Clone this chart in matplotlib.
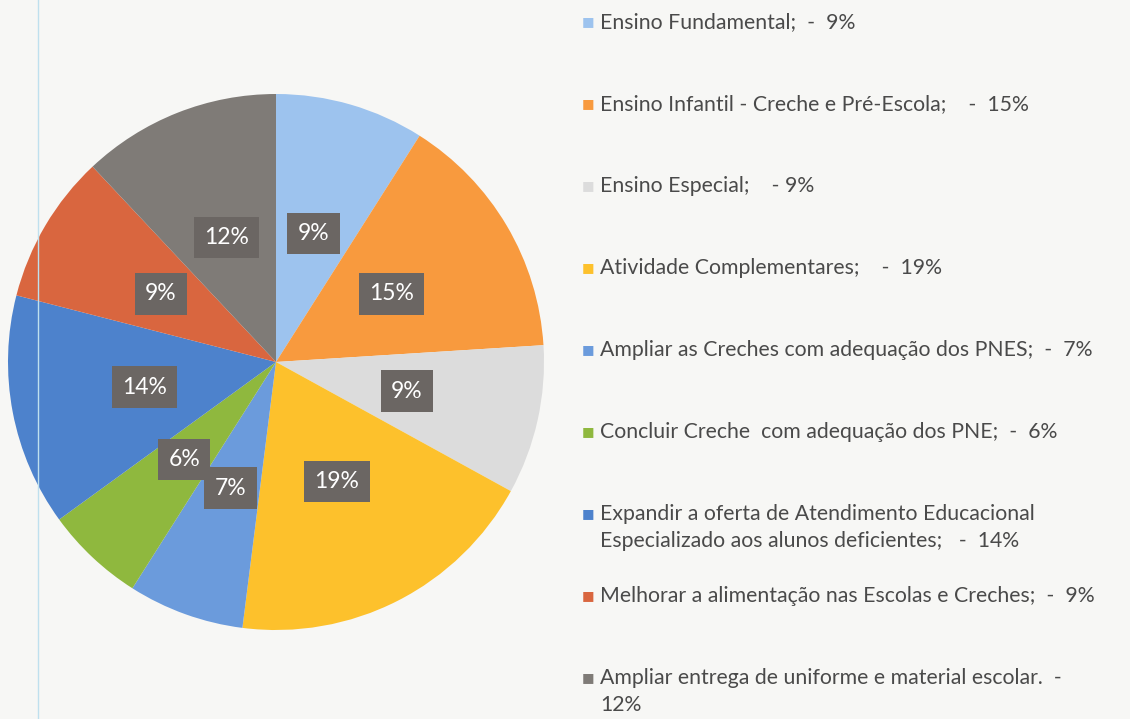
import matplotlib.pyplot as plt

# data
categories = [
    "Ensino Fundamental",
    "Ensino Infantil - Creche e Pré-Escola",
    "Ensino Especial",
    "Atividade Complementares",
    "Ampliar as Creches com adequação dos PNES",
    "Concluir Creche com adequação dos PNE",
    "Expandir a oferta de Atendimento Educacional Especializado aos alunos deficientes",
    "Melhorar a alimentação nas Escolas e Creches",
    "Ampliar entrega de uniforme e material escolar",
]
values = [9, 15, 9, 19, 7, 6, 14, 9, 12]
legend_labels = [
    "Ensino Fundamental;  -  9%",
    "Ensino Infantil - Creche e Pré-Escola;    -  15%",
    "Ensino Especial;    - 9%",
    "Atividade Complementares;    -  19%",
    "Ampliar as Creches com adequação dos PNES;  -  7%",
    "Concluir Creche  com adequação dos PNE;  -  6%",
    "Expandir a oferta de Atendimento Educacional\nEspecializado aos alunos deficientes;   -  14%",
    "Melhorar a alimentação nas Escolas e Creches;  -  9%",
    "Ampliar entrega de uniforme e material escolar.  -\n12%",
]
colors = ["#9dc3ee", "#f89a3e", "#dcdcdc", "#fdc12c", "#6b9bdc",
          "#8fb83e", "#4d82cc", "#d9663f", "#7f7b77"]

plt.rcParams['font.family'] = ['Lato', 'DejaVu Sans']

W, H = 1130, 719
fig = plt.figure(figsize=(W / 100, H / 100), dpi=100)
fig.patch.set_facecolor('#f7f7f5')

# pie centred at (276, 362) px with radius 268 px
cx, cy, r = 276, 362, 268
ax = fig.add_axes([(cx - r) / W, (H - cy - r) / H, 2 * r / W, 2 * r / H])
wedges, texts = ax.pie(values, colors=colors, startangle=90, counterclock=False,
                       labels=[f"{v}%" for v in values], labeldistance=0.5,
                       wedgeprops=dict(linewidth=0))
for t in texts:
    t.set_color('white')
    t.set_fontsize(16.5)
    t.set_ha('center')
    t.set_va('center')
    t.set_bbox(dict(boxstyle='square,pad=0.45', facecolor='#6b6663', edgecolor='none'))
ax.set_xlim(-1, 1)
ax.set_ylim(-1, 1)
ax.set_aspect('equal')
ax.axis('off')

# faint scan line at the left
fig.add_artist(plt.Line2D([38 / W, 38 / W], [0, 1], color='#bfe0ee', lw=1))

# legend drawn by hand
x_mark, x_text = 588, 600
y0, step = 22, 82
for i, (lab, col) in enumerate(zip(legend_labels, colors)):
    y = y0 + step * i
    fig.text(x_mark / W, 1 - y / H, "■", color=col, fontsize=9.5,
             ha='center', va='center', family='DejaVu Sans')
    fig.text(x_text / W, 1 - (y - 10) / H, lab, color='#4a4a4a', fontsize=15.3,
             ha='left', va='top', linespacing=1.45)

fig.savefig('out.png', dpi=100, facecolor=fig.get_facecolor())
